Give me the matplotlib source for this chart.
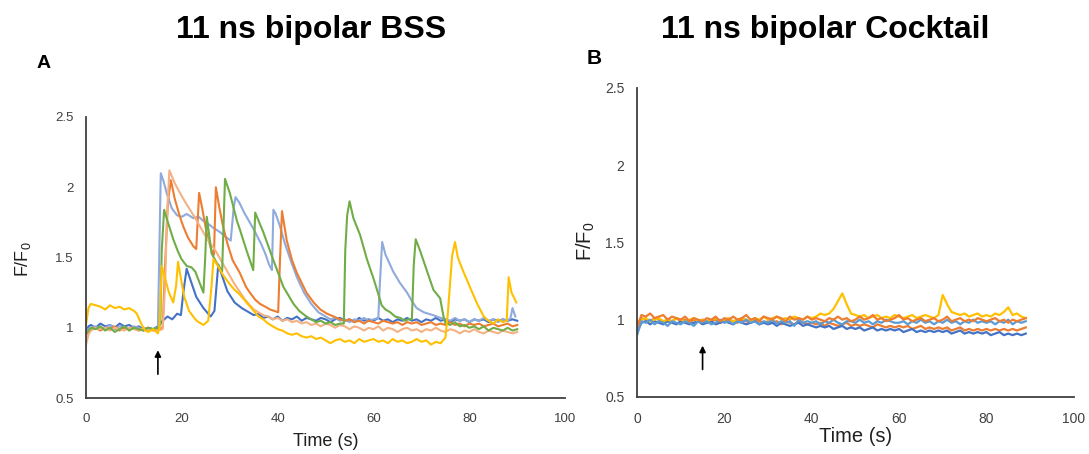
import matplotlib
matplotlib.use("Agg")
import matplotlib.pyplot as plt

plt.rcParams['font.family'] = ['Liberation Sans', 'DejaVu Sans']
plt.rcParams['mathtext.default'] = 'regular'

# ---------------- Panel A: 11 ns bipolar BSS ----------------
T_A_DBLUE = [0, 0.5] + list(range(1, 20)) + [19.8, 20.3, 21, 22, 23, 24.5, 26, 26.8, 27.6, 28.5, 29.5,
                                             31, 32.5] + list(range(34, 91))
Y_A_DBLUE = [0.97, 1.01, 1.02, 1.00, 1.03, 1.01, 1.02, 1.00, 1.03, 1.01, 1.02, 1.00, 1.01, 0.99, 1.00,
             0.99, 1.01, 1.05, 1.08, 1.06, 1.10,
             1.09, 1.25, 1.42, 1.32, 1.22, 1.14, 1.08, 1.12, 1.45, 1.36, 1.26, 1.18, 1.14,
             1.11, 1.09, 1.10, 1.07, 1.08, 1.06, 1.08, 1.05, 1.07, 1.06, 1.08, 1.05, 1.07, 1.06, 1.05,
             1.07, 1.06, 1.04, 1.06, 1.07, 1.05, 1.06, 1.04, 1.07, 1.05, 1.06, 1.05, 1.07, 1.05, 1.06,
             1.04, 1.06, 1.05, 1.07, 1.05, 1.06, 1.04, 1.06, 1.05, 1.07, 1.05, 1.06, 1.04, 1.06, 1.05,
             1.06, 1.04, 1.06, 1.05, 1.06, 1.04, 1.06, 1.05, 1.06, 1.05, 1.06, 1.05]

T_A_LBLUE = list(range(0, 16)) + [15.3, 15.6, 16.2, 16.9, 17.9, 19, 20, 21, 22.4, 23.5, 24.5, 25.5, 26.6,
                                  28, 29, 30.2, 30.8, 31.2, 32, 33, 34, 35, 36.5, 37.5, 38.2, 38.8, 39.1,
                                  39.6, 40.5, 41.5, 42.6, 44, 45.5, 47, 48.5, 50] + list(range(51, 62)) + \
    [61.3, 61.8, 62.5, 63.3, 64.1, 65.5, 67, 68, 69, 70.5, 72.4, 74] + list(range(75, 89)) + [88.6, 89, 89.6]
Y_A_LBLUE = [0.98, 1.00, 1.01, 0.99, 1.00, 1.02, 0.99, 1.01, 1.00, 0.99, 1.01, 1.00, 0.98, 1.00, 0.99, 1.00,
             1.55, 2.10, 2.04, 1.95, 1.85, 1.80, 1.79, 1.81, 1.78, 1.79, 1.76, 1.74, 1.71,
             1.68, 1.65, 1.62, 1.85, 1.93, 1.89, 1.82, 1.76, 1.70, 1.60, 1.52, 1.45, 1.41, 1.84,
             1.81, 1.72, 1.60, 1.49, 1.36, 1.25, 1.17, 1.11, 1.08,
             1.06, 1.07, 1.05, 1.06, 1.04, 1.06, 1.05, 1.07, 1.05, 1.06, 1.07,
             1.30, 1.61, 1.52, 1.46, 1.40, 1.32, 1.25, 1.19, 1.14, 1.11, 1.09, 1.07,
             1.06, 1.05, 1.07, 1.05, 1.06, 1.04, 1.06, 1.05, 1.07, 1.05, 1.06, 1.04, 1.06, 1.05,
             1.07, 1.14, 1.08]

T_A_ORANGE = list(range(0, 17)) + [16.5, 17.1, 17.7, 18.5, 19.5, 20.3, 21.3, 22.4, 23.0, 23.6, 24.3, 25.2,
                                   26.2, 26.7, 27.1, 27.8, 28.6, 29.5, 30.6, 32.1, 33.4, 34.2, 35.3, 36.3,
                                   37.4, 38.4, 39.3, 40.1, 40.5, 40.9, 41.9, 43, 44, 45, 46, 47.5, 48.9,
                                   50.3, 51.7] + list(range(53, 91))
Y_A_ORANGE = [0.95, 0.99, 1.00, 0.98, 1.00, 0.99, 1.01, 0.98, 1.00, 0.99, 1.00, 0.98, 0.99, 1.00, 0.98,
              0.99, 1.00,
              1.45, 1.90, 2.05, 1.92, 1.80, 1.72, 1.64, 1.58, 1.56, 1.96, 1.84, 1.67,
              1.55, 1.52, 2.00, 1.86, 1.72, 1.60, 1.48, 1.39, 1.29, 1.25, 1.20, 1.17,
              1.15, 1.13, 1.12, 1.11, 1.50, 1.83, 1.62, 1.48, 1.39, 1.32, 1.25, 1.18, 1.13,
              1.10, 1.08,
              1.06, 1.05, 1.06, 1.04, 1.05, 1.03, 1.05, 1.04, 1.03, 1.05, 1.04, 1.03, 1.04, 1.02,
              1.04, 1.03, 1.04, 1.02, 1.03, 1.04, 1.02, 1.03, 1.02, 1.04, 1.02, 1.03, 1.01, 1.03,
              1.02, 1.03, 1.01, 1.02, 1.03, 1.01, 1.02, 1.03, 1.01, 1.02]

T_A_SALMON = [0, 0.5] + list(range(1, 17)) + [16.5, 16.9, 17.4, 18.5, 19.6, 20.6, 21.7, 22.8, 23.8, 24.8,
                                             25.9, 27, 28, 29, 30, 31, 32.2, 33.2, 34.2, 35] + list(range(36, 91))
Y_A_SALMON = [0.88, 0.95, 0.98, 1.00, 0.99, 1.00, 0.98, 1.00, 0.99, 0.98, 1.00, 0.99, 0.98, 1.00, 0.98,
              0.99, 0.98, 0.99,
              1.30, 1.80, 2.12, 2.03, 1.96, 1.90, 1.84, 1.78, 1.72, 1.66, 1.60, 1.55, 1.49, 1.43,
              1.37, 1.31, 1.25, 1.20, 1.16, 1.13,
              1.11, 1.09, 1.08, 1.06, 1.07, 1.05, 1.06, 1.04, 1.05, 1.03, 1.04, 1.02, 1.03, 1.01,
              1.03, 1.02, 1.00, 1.02, 1.01, 0.99, 1.01, 1.00, 0.98, 1.00, 0.99, 1.01, 0.98, 1.00,
              0.99, 0.97, 0.99, 1.00, 0.98, 0.99, 0.97, 0.99, 0.98, 1.00, 0.98, 0.97, 0.99, 0.98,
              0.96, 0.98, 0.97, 0.99, 0.97, 0.96, 0.98, 0.97, 0.96, 0.98, 0.97, 0.96, 0.97]

T_A_GREEN = list(range(0, 16)) + [15.5, 15.8, 16.3, 17, 18.2, 19.1, 19.9, 21, 22, 22.8, 23.7, 24.5, 24.9,
                                  25.2, 26.2, 27.3, 28.4, 29.0, 30, 31.5, 32.1, 33.5, 34.9, 35.3, 37, 39,
                                  41.2, 43.3, 44.5, 46, 47, 48, 49, 50, 51, 52, 53, 53.8, 54.1, 54.5, 55,
                                  55.8, 57.2, 58.6, 60, 61, 61.7, 62.5, 63.5, 64.5, 65.6, 66.5, 67.3, 68,
                                  68.4, 68.8, 69.7, 71.1, 72.5, 73.9, 74.6] + list(range(75, 91))
Y_A_GREEN = [0.96, 1.00, 0.99, 1.01, 0.98, 1.00, 0.97, 0.99, 1.01, 0.98, 1.00, 0.99, 0.98, 1.00, 0.99, 1.00,
             1.02, 1.55, 1.84, 1.76, 1.63, 1.55, 1.49, 1.44, 1.43, 1.40, 1.32, 1.25, 1.52,
             1.79, 1.53, 1.46, 1.40, 2.06, 1.96, 1.76, 1.70, 1.55, 1.41, 1.82, 1.68, 1.49,
             1.29, 1.17, 1.12, 1.08, 1.06, 1.04, 1.05, 1.03, 1.04, 1.02, 1.03, 1.03, 1.55, 1.80, 1.90,
             1.78, 1.66, 1.49, 1.35, 1.24, 1.16, 1.13, 1.11, 1.08, 1.07, 1.05, 1.06, 1.06,
             1.45, 1.63, 1.55, 1.41, 1.27, 1.21, 1.08,
             1.03, 1.02, 1.04, 1.01, 1.02, 1.00, 1.01, 0.99, 1.01, 0.98, 1.00, 0.99, 0.98, 1.00, 0.98, 0.99]

T_A_GOLD = [0, 0.5, 1, 2, 3, 4, 5, 6, 7, 8, 9, 10, 10.6, 11.5, 12.3, 13, 14, 15, 15.3, 15.8, 16.5, 17.3,
            18.2, 18.8, 19.2, 19.8, 20.5, 21.5, 22.8, 23.5, 24.5, 25.5, 26.2, 26.6, 27.5, 28.5] + \
    list(range(30, 75)) + [75, 75.5, 76.4, 77, 77.6, 78.5, 80, 81.5, 83, 84, 85, 86, 87, 87.8, 88.2, 88.8, 89.8]
Y_A_GOLD = [1.02, 1.14, 1.17, 1.16, 1.15, 1.13, 1.16, 1.14, 1.15, 1.13, 1.14, 1.12, 1.10, 1.03, 0.98, 0.97,
            0.99, 0.96, 1.00, 1.44, 1.35, 1.25, 1.18, 1.30, 1.47, 1.35, 1.22, 1.12, 1.06, 1.04, 1.02, 1.05,
            1.30, 1.49, 1.44, 1.38,
            1.31, 1.27, 1.24, 1.20, 1.16, 1.12, 1.08, 1.06, 1.03, 1.01, 0.99, 0.98, 0.96, 0.95, 0.96,
            0.94, 0.93, 0.94, 0.92, 0.93,
            0.91, 0.89, 0.91, 0.92, 0.90, 0.91, 0.89, 0.92, 0.90, 0.91, 0.92, 0.90, 0.91, 0.89, 0.92,
            0.90, 0.91, 0.89, 0.90, 0.92, 0.90, 0.91, 0.88, 0.90, 0.89,
            0.93, 1.10, 1.51, 1.61, 1.50, 1.42, 1.30, 1.18, 1.08, 1.05, 1.03, 1.06, 1.04, 1.05, 1.36, 1.25, 1.18]

# ---------------- Panel B: 11 ns bipolar Cocktail ----------------
T_B = list(range(0, 90))
Y_B_BLUE = [0.90, 0.99, 0.98, 1.00, 0.97, 0.99, 0.98, 0.96, 0.99, 0.98,
            0.97, 0.99, 0.98, 0.96, 0.99, 0.98, 0.99, 0.97, 0.98, 1.00,
            0.98, 0.99, 0.97, 0.99, 0.98, 1.00, 0.98, 0.99, 0.97, 0.99,
            0.98, 1.00, 0.97, 0.99, 0.98, 0.99, 0.96, 1.00, 0.98, 0.99,
            0.98, 0.99, 0.97, 0.99, 0.98, 1.00, 0.98, 0.97, 0.99, 0.99,
            0.98, 1.00, 0.98, 0.99, 0.97, 0.99, 0.98, 1.00, 0.99, 0.98,
            0.98, 0.99, 0.97, 0.99, 0.98, 1.00, 0.98, 0.99, 0.97, 0.99,
            0.98, 1.00, 0.98, 0.99, 0.97, 0.99, 0.98, 1.00, 0.98, 0.99,
            0.98, 0.99, 0.97, 0.99, 0.98, 1.00, 0.97, 0.99, 0.98, 0.99]
Y_B_DBLUE = [0.92, 0.98, 0.99, 0.97, 0.99, 0.98, 0.97, 0.99, 0.98, 0.97,
             0.99, 0.98, 0.97, 0.98, 0.99, 0.97, 0.98, 0.99, 0.97, 0.98,
             0.99, 0.98, 0.97, 0.99, 0.98, 0.97, 0.98, 0.99, 0.97, 0.98,
             0.97, 0.98, 0.96, 0.98, 0.97, 0.96, 0.97, 0.98, 0.96, 0.97,
             0.96, 0.95, 0.96, 0.95, 0.96, 0.94, 0.95, 0.96, 0.94, 0.95,
             0.94, 0.95, 0.93, 0.94, 0.95, 0.93, 0.94, 0.93, 0.94, 0.93,
             0.94, 0.92, 0.93, 0.94, 0.92, 0.93, 0.92, 0.93, 0.92, 0.93,
             0.92, 0.93, 0.91, 0.92, 0.93, 0.91, 0.92, 0.91, 0.92, 0.91,
             0.92, 0.90, 0.91, 0.92, 0.90, 0.91, 0.90, 0.91, 0.90, 0.91]
Y_B_ORANGE = [0.95, 1.03, 1.02, 1.04, 1.01, 1.02, 1.03, 1.00, 1.02, 1.01,
              1.00, 1.02, 0.99, 1.01, 1.00, 0.99, 1.01, 1.00, 1.02, 0.99,
              1.01, 1.00, 1.02, 1.00, 1.01, 1.03, 1.00, 1.01, 0.99, 1.02,
              1.01, 1.00, 1.02, 1.01, 0.99, 1.02, 1.00, 1.01, 1.00, 1.02,
              1.00, 1.01, 1.00, 0.99, 1.01, 1.00, 1.02, 1.00, 1.01, 0.99,
              1.00, 1.02, 1.00, 1.01, 1.03, 1.00, 1.01, 0.99, 1.00, 1.01,
              1.03, 1.00, 1.01, 0.99, 1.00, 1.01, 0.99, 1.00, 1.01, 0.99,
              1.00, 1.02, 0.99, 1.00, 1.01, 0.99, 1.00, 0.99, 1.01, 1.00,
              0.99, 1.00, 1.01, 0.99, 1.00, 0.98, 1.00, 0.99, 1.00, 1.01]
Y_B_ORANGE2 = [0.97, 1.01, 1.00, 0.99, 1.01, 1.00, 0.98, 1.00, 0.99, 1.01,
               0.99, 1.00, 0.98, 1.00, 0.99, 1.00, 0.98, 0.99, 1.00, 0.98,
               0.99, 1.00, 0.99, 0.98, 1.00, 0.99, 0.98, 1.00, 0.99, 0.98,
               0.99, 0.98, 0.99, 0.97, 0.99, 0.98, 0.97, 0.99, 0.98, 0.97,
               0.98, 0.97, 0.98, 0.96, 0.98, 0.97, 0.96, 0.97, 0.98, 0.96,
               0.97, 0.96, 0.97, 0.96, 0.95, 0.97, 0.96, 0.95, 0.96, 0.95,
               0.96, 0.95, 0.96, 0.94, 0.95, 0.96, 0.94, 0.95, 0.94, 0.95,
               0.94, 0.95, 0.93, 0.94, 0.95, 0.93, 0.94, 0.93, 0.94, 0.93,
               0.94, 0.93, 0.94, 0.93, 0.94, 0.93, 0.94, 0.93, 0.94, 0.95]
Y_B_GOLD = [0.97, 1.00, 1.01, 0.99, 1.00, 1.01, 0.99, 1.00, 0.99, 1.01,
            1.00, 0.99, 1.00, 1.01, 0.99, 1.00, 0.99, 1.00, 1.01, 0.99,
            1.00, 1.01, 0.99, 1.00, 1.01, 1.00, 0.99, 1.01, 1.00, 1.02,
            1.00, 1.01, 1.02, 1.00, 1.01, 1.00, 1.02, 1.01, 1.00, 1.02,
            1.01, 1.02, 1.04, 1.03, 1.04, 1.07, 1.12, 1.17, 1.10, 1.04,
            1.03, 1.02, 1.03, 1.01, 1.02, 1.03, 1.01, 1.02, 1.01, 1.03,
            1.02, 1.01, 1.02, 1.03, 1.01, 1.02, 1.03, 1.02, 1.01, 1.03,
            1.16, 1.10, 1.05, 1.04, 1.03, 1.04, 1.02, 1.03, 1.04, 1.02,
            1.03, 1.02, 1.04, 1.03, 1.05, 1.08, 1.03, 1.04, 1.02, 1.01]

STIM_TIME = 15
X_TICKS = [0, 20, 40, 60, 80, 100]
Y_TICKS = [0.5, 1, 1.5, 2, 2.5]
Y_TICK_LABELS = ['0.5', '1', '1.5', '2', '2.5']

panel_a = [(T_A_DBLUE, Y_A_DBLUE, '#4472C4'), (T_A_LBLUE, Y_A_LBLUE, '#8FAADC'),
           (T_A_ORANGE, Y_A_ORANGE, '#ED7D31'), (T_A_SALMON, Y_A_SALMON, '#F4B183'),
           (T_A_GREEN, Y_A_GREEN, '#70AD47'), (T_A_GOLD, Y_A_GOLD, '#FFC000')]
panel_b = [(T_B, Y_B_ORANGE2, '#ED7D31'), (T_B, Y_B_DBLUE, '#4472C4'), (T_B, Y_B_GOLD, '#FFC000'),
           (T_B, Y_B_BLUE, '#5B9BD5'), (T_B, Y_B_ORANGE, '#ED7D31')]


def style_axes(ax, tick_size, label_size):
    ax.set_xlim(0, 100)
    ax.set_ylim(0.5, 2.5)
    ax.set_xticks(X_TICKS)
    ax.set_yticks(Y_TICKS)
    ax.set_yticklabels(Y_TICK_LABELS)
    for side in ['top', 'right']:
        ax.spines[side].set_visible(False)
    for side in ['left', 'bottom']:
        ax.spines[side].set_color('#404040')
        ax.spines[side].set_linewidth(1.3)
    ax.tick_params(axis='both', length=0, labelsize=tick_size, labelcolor='#404040')
    ax.tick_params(axis='x', pad=11)
    ax.tick_params(axis='y', pad=9)
    ax.set_xlabel('Time (s)', fontsize=label_size, color='#202020')
    ax.set_ylabel('F/F$_{0}$', fontsize=label_size, color='#202020')


fig = plt.figure(figsize=(10.89, 4.54), dpi=100)
ax1 = fig.add_axes([0.079, 0.1233, 0.440, 0.619])
ax2 = fig.add_axes([0.585, 0.1256, 0.401, 0.681])

for t, y, c in panel_a:
    ax1.plot(t, y, color=c, lw=1.5)
for t, y, c in panel_b:
    ax2.plot(t, y, color=c, lw=1.6)

style_axes(ax1, 9.5, 13)
style_axes(ax2, 10, 14.5)
ax1.xaxis.set_label_coords(0.5, -0.125)
ax1.yaxis.set_label_coords(-0.111, 0.495)
ax2.xaxis.set_label_coords(0.5, -0.097)
ax2.yaxis.set_label_coords(-0.092, 0.505)

# stimulus arrows
ax1.annotate('', xy=(STIM_TIME, 0.86), xytext=(STIM_TIME, 0.65),
             arrowprops=dict(arrowstyle='-|>', color='black', lw=1.2, mutation_scale=9))
ax2.annotate('', xy=(STIM_TIME, 0.85), xytext=(STIM_TIME, 0.66),
             arrowprops=dict(arrowstyle='-|>', color='black', lw=1.2, mutation_scale=9))

fig.text(311 / 1089, 1 - 30 / 454, '11 ns bipolar BSS', fontsize=23, fontweight='bold',
         ha='center', va='center')
fig.text(825 / 1089, 1 - 30 / 454, '11 ns bipolar Cocktail', fontsize=23, fontweight='bold',
         ha='center', va='center')
fig.text(44 / 1089, 1 - 64 / 454, 'A', fontsize=14, fontweight='bold', ha='center', va='center')
fig.text(594 / 1089, 1 - 58 / 454, 'B', fontsize=15, fontweight='bold', ha='center', va='center')

fig.savefig('out.png', dpi=100)
